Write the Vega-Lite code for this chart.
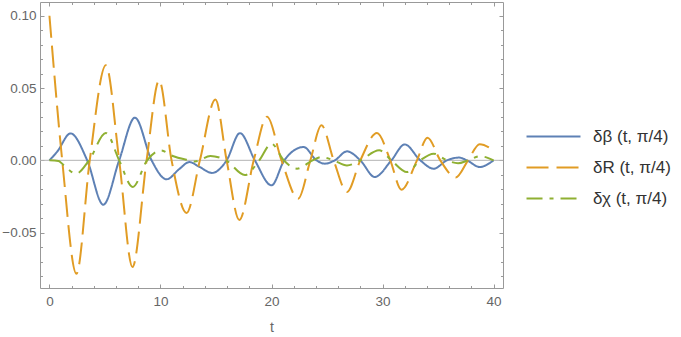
{
  "$schema": "https://vega.github.io/schema/vega-lite/v6.json",
  "width": 463,
  "height": 286,
  "autosize": "none",
  "padding": {"left": 40, "top": 2, "right": 178, "bottom": 49},
  "background": "white",
  "config": {
    "view": {"stroke": null},
    "font": "Liberation Sans",
    "axis": {"grid": false, "domainColor": "#999", "tickColor": "#999", "labelColor": "#666", "labelFontSize": 13.5, "titleColor": "#666", "titleFontSize": 14, "titleFontWeight": "normal", "labelFont": "Liberation Sans", "titleFont": "Liberation Sans"}
  },
  "data": {"values": [
    {"s":"β","t":0,"v":0},{"s":"β","t":0.7,"v":0.006},{"s":"β","t":1.9,"v":0.0186},{"s":"β","t":3.4,"v":0},{"s":"β","t":4.85,"v":-0.0307},{"s":"β","t":6.28,"v":0},{"s":"β","t":7.7,"v":0.0295},{"s":"β","t":9.2,"v":0},{"s":"β","t":10.55,"v":-0.0131},{"s":"β","t":11.7,"v":-0.006},{"s":"β","t":12.6,"v":-0.0012},{"s":"β","t":13.5,"v":-0.0045},{"s":"β","t":14.65,"v":-0.0087},{"s":"β","t":15.96,"v":0},{"s":"β","t":17.16,"v":0.0188},{"s":"β","t":18.5,"v":0},{"s":"β","t":20.0,"v":-0.0173},{"s":"β","t":21.15,"v":0},{"s":"β","t":22.9,"v":0.0092},{"s":"β","t":24.05,"v":0},{"s":"β","t":24.8,"v":-0.0023},{"s":"β","t":25.7,"v":0},{"s":"β","t":26.8,"v":0.0062},{"s":"β","t":28.0,"v":0},{"s":"β","t":29.3,"v":-0.0115},{"s":"β","t":30.8,"v":0},{"s":"β","t":32.0,"v":0.011},{"s":"β","t":33.4,"v":0},{"s":"β","t":34.6,"v":-0.0058},{"s":"β","t":35.8,"v":0},{"s":"β","t":36.9,"v":0.0019},{"s":"β","t":37.6,"v":0},{"s":"β","t":38.75,"v":-0.0046},{"s":"β","t":40,"v":0},
    {"s":"R","t":0,"v":0.1},{"s":"R","t":1.15,"v":0},{"s":"R","t":2.43,"v":-0.0784},{"s":"R","t":3.63,"v":0},{"s":"R","t":5.08,"v":0.0657},{"s":"R","t":6.28,"v":0},{"s":"R","t":7.48,"v":-0.0738},{"s":"R","t":8.75,"v":0},{"s":"R","t":9.88,"v":0.0553},{"s":"R","t":11.0,"v":0},{"s":"R","t":12.35,"v":-0.0364},{"s":"R","t":13.55,"v":0},{"s":"R","t":14.95,"v":0.042},{"s":"R","t":15.96,"v":0},{"s":"R","t":17.1,"v":-0.0412},{"s":"R","t":18.4,"v":0},{"s":"R","t":19.6,"v":0.0302},{"s":"R","t":20.9,"v":0},{"s":"R","t":22.4,"v":-0.0265},{"s":"R","t":23.5,"v":0},{"s":"R","t":24.5,"v":0.0242},{"s":"R","t":25.6,"v":0},{"s":"R","t":26.8,"v":-0.0219},{"s":"R","t":28.0,"v":0},{"s":"R","t":29.5,"v":0.0189},{"s":"R","t":30.7,"v":0},{"s":"R","t":31.7,"v":-0.0203},{"s":"R","t":33.1,"v":0},{"s":"R","t":34.05,"v":0.0157},{"s":"R","t":35.2,"v":0},{"s":"R","t":36.6,"v":-0.0118},{"s":"R","t":37.7,"v":0},{"s":"R","t":38.75,"v":0.0112},{"s":"R","t":40,"v":0.0068},
    {"s":"χ","t":0,"v":0},{"s":"χ","t":0.8,"v":-0.0004},{"s":"χ","t":1.5,"v":-0.005},{"s":"χ","t":2.4,"v":-0.0092},{"s":"χ","t":3.57,"v":0},{"s":"χ","t":5.08,"v":0.0189},{"s":"χ","t":6.28,"v":0},{"s":"χ","t":7.5,"v":-0.0184},{"s":"χ","t":8.8,"v":0},{"s":"χ","t":10.05,"v":0.0068},{"s":"χ","t":11.1,"v":0.003},{"s":"χ","t":12.4,"v":0.0003},{"s":"χ","t":13.1,"v":-0.0008},{"s":"χ","t":14.5,"v":0.003},{"s":"χ","t":15.9,"v":0},{"s":"χ","t":17.6,"v":-0.0102},{"s":"χ","t":18.9,"v":0},{"s":"χ","t":20.0,"v":0.0115},{"s":"χ","t":21.1,"v":0},{"s":"χ","t":22.3,"v":-0.0058},{"s":"χ","t":23.7,"v":0},{"s":"χ","t":24.5,"v":0.0023},{"s":"χ","t":25.6,"v":0},{"s":"χ","t":26.8,"v":-0.0035},{"s":"χ","t":28.0,"v":0},{"s":"χ","t":29.7,"v":0.0069},{"s":"χ","t":30.8,"v":0},{"s":"χ","t":32.2,"v":-0.0081},{"s":"χ","t":33.4,"v":0},{"s":"χ","t":34.6,"v":0.0046},{"s":"χ","t":35.8,"v":0},{"s":"χ","t":36.8,"v":-0.002},{"s":"χ","t":37.7,"v":0},{"s":"χ","t":38.8,"v":0.0028},{"s":"χ","t":40,"v":0}
  ]},
  "layer": [
    {
      "data": {"values": [{"z": 0}]},
      "mark": {"type": "rule", "color": "#b4b4b4", "strokeWidth": 1},
      "encoding": {
        "y": {"field": "z", "type": "quantitative", "scale": {"domain": [-0.0883, 0.1095], "nice": false, "zero": false},
              "axis": {"orient": "right", "values": [-0.05, 0, 0.05, 0.1], "labels": false, "tickSize": -4, "title": null}}
      }
    },
    {
      "mark": {"type": "line", "strokeWidth": 2, "interpolate": "monotone"},
      "encoding": {
        "x": {"field": "t", "type": "quantitative", "scale": {"domain": [-0.85, 40.85], "nice": false, "zero": false},
              "axis": {"orient": "bottom", "values": [0, 10, 20, 30, 40], "tickSize": -4, "labelPadding": 10, "title": "t", "titlePadding": 13}},
        "y": {"field": "v", "type": "quantitative", "scale": {"domain": [-0.0883, 0.1095], "nice": false, "zero": false},
              "axis": {"orient": "left", "values": [-0.05, 0, 0.05, 0.1], "format": ".2f", "tickSize": -4, "labelPadding": 8, "title": null}},
        "color": {"field": "s", "type": "nominal", "scale": {"domain": ["β", "R", "χ"], "range": ["#5E81B5", "#E19C24", "#8FB032"]},
                  "legend": {"title": null, "orient": "none", "legendX": 505, "legendY": 126, "symbolType": "M-4,0H4", "symbolSize": 182, "symbolStrokeWidth": 2, "labelFontSize": 17, "labelColor": "#333", "labelOffset": 31, "rowPadding": 13, "padding": 0, "labelExpr": "'δ' + datum.label + ' (t, π/4)'"}},
        "strokeDash": {"field": "s", "type": "nominal", "scale": {"domain": ["β", "R", "χ"], "range": [[1, 0], [22, 8], [16, 7, 4, 7]]},
                  "legend": {"title": null, "orient": "none", "legendX": 505, "legendY": 126, "symbolType": "M-4,0H4", "symbolSize": 182, "symbolStrokeWidth": 2, "labelFontSize": 17, "labelColor": "#333", "labelOffset": 31, "rowPadding": 13, "padding": 0, "labelExpr": "'δ' + datum.label + ' (t, π/4)'"}}
      }
    },
    {
      "mark": {"type": "point", "opacity": 0},
      "encoding": {
        "x": {"field": "t", "type": "quantitative", "scale": {"domain": [-0.85, 40.85], "nice": false, "zero": false},
              "axis": {"orient": "top", "values": [0, 10, 20, 30, 40], "labels": false, "tickSize": -4, "title": null}},
        "y": {"field": "v", "type": "quantitative", "scale": {"domain": [-0.0883, 0.1095], "nice": false, "zero": false},
              "axis": {"orient": "left", "values": [-0.08, -0.07, -0.06, -0.04, -0.03, -0.02, -0.01, 0.01, 0.02, 0.03, 0.04, 0.06, 0.07, 0.08, 0.09], "labels": false, "domain": false, "tickSize": -2.5, "title": null}}
      }
    },
    {
      "mark": {"type": "point", "opacity": 0},
      "encoding": {
        "x": {"field": "t", "type": "quantitative", "scale": {"domain": [-0.85, 40.85], "nice": false, "zero": false},
              "axis": {"orient": "bottom", "values": [2, 4, 6, 8, 12, 14, 16, 18, 22, 24, 26, 28, 32, 34, 36, 38], "labels": false, "domain": false, "tickSize": -2.5, "title": null}},
        "y": {"field": "v", "type": "quantitative", "scale": {"domain": [-0.0883, 0.1095], "nice": false, "zero": false},
              "axis": {"orient": "right", "values": [-0.08, -0.07, -0.06, -0.04, -0.03, -0.02, -0.01, 0.01, 0.02, 0.03, 0.04, 0.06, 0.07, 0.08, 0.09], "labels": false, "domain": false, "tickSize": -2.5, "title": null}}
      }
    },
    {
      "mark": {"type": "point", "opacity": 0},
      "encoding": {
        "x": {"field": "t", "type": "quantitative", "scale": {"domain": [-0.85, 40.85], "nice": false, "zero": false},
              "axis": {"orient": "top", "values": [2, 4, 6, 8, 12, 14, 16, 18, 22, 24, 26, 28, 32, 34, 36, 38], "labels": false, "domain": false, "tickSize": -2.5, "title": null}},
        "y": {"field": "v", "type": "quantitative", "scale": {"domain": [-0.0883, 0.1095], "nice": false, "zero": false}, "axis": null}
      }
    }
  ],
  "resolve": {"axis": {"x": "independent", "y": "independent"}}
}
